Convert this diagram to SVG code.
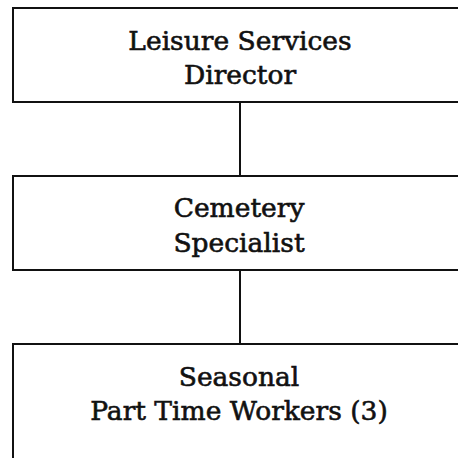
<svg xmlns="http://www.w3.org/2000/svg" width="458" height="458" viewBox="0 0 458 458">
  <style>
    .box { fill: #ffffff; stroke: #111111; stroke-width: 2; }
    .link { stroke: #111111; stroke-width: 2; fill: none; }
    .label { font-family: "DejaVu Serif", "Liberation Serif", serif; font-size: 26.5px; fill: #111111; stroke: #111111; stroke-width: 0.6; text-anchor: middle; }
  </style>
  <rect width="458" height="458" fill="#ffffff"/>
  <g id="connectors">
    <line class="link" x1="240" y1="102" x2="240" y2="176"/>
    <line class="link" x1="240" y1="270" x2="240" y2="344"/>
  </g>
  <g id="director">
    <rect class="box" x="13" y="8" width="470" height="94"/>
    <text class="label" x="240" y="50">Leisure Services</text>
    <text class="label" x="240" y="84">Director</text>
  </g>
  <g id="specialist">
    <rect class="box" x="13" y="176" width="470" height="94"/>
    <text class="label" x="239" y="217">Cemetery</text>
    <text class="label" x="239" y="252">Specialist</text>
  </g>
  <g id="workers">
    <rect class="box" x="13" y="344" width="470" height="140"/>
    <text class="label" x="239" y="386">Seasonal</text>
    <text class="label" x="239" y="420">Part Time Workers (3)</text>
  </g>
</svg>
